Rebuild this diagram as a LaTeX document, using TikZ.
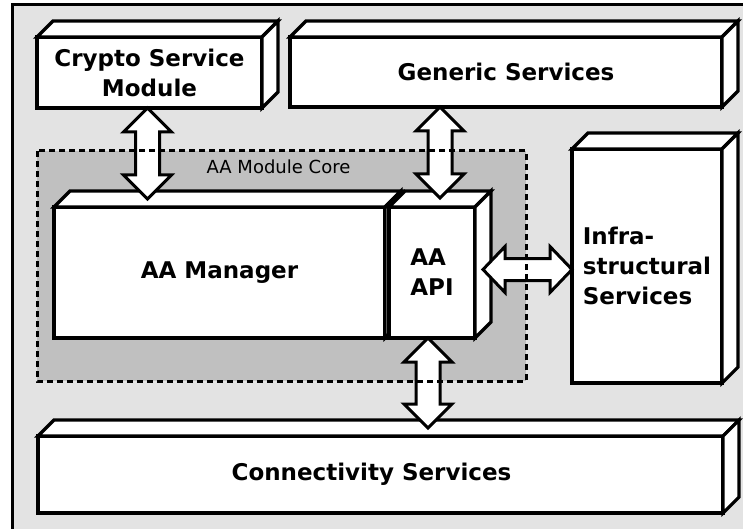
\documentclass[tikz,border=0pt]{standalone}
\usepackage{fontspec}
\setmainfont{DejaVu Sans}
\usetikzlibrary{calc}

\definecolor{panelgray}{HTML}{E3E3E3}
\definecolor{coregray}{HTML}{C0C0C0}

\tikzset{
  box/.style={draw, line width=3.2pt, fill=white, outer sep=0pt, inner sep=0pt,
    anchor=north west, align=center,
    font=\fontsize{23}{30}\selectfont\bfseries},
  face/.style={draw, line width=3.2pt, fill=white, line join=miter},
  blockarrow/.style={draw, line width=3pt, fill=white, line join=miter},
  coreframe/.style={draw, line width=3pt, dash pattern=on 6pt off 4pt},
}

% top and right faces of a box drawn as a cuboid
\newcommand\cuboidfaces[1]{%
  \path[face] (#1.north west) -- ++(16,-16) -- ($(#1.north east)+(16,-16)$)
    -- (#1.north east) -- cycle;
  \path[face] (#1.north east) -- ++(16,-16) -- ($(#1.south east)+(16,-16)$)
    -- (#1.south east) -- cycle;
}
% vertical double block arrow, first point above the second
\newcommand\vdarrow[2]{%
  \path[blockarrow] (#1) -- ++(24,24) -- ++(-12,0) -- ($(#2)+(12,-24)$)
    -- ++(12,0) -- (#2) -- ++(-24,-24) -- ++(12,0) -- ($(#1)+(-12,24)$)
    -- ++(-12,0) -- cycle;
}
% horizontal double block arrow, first point left of the second
\newcommand\hdarrow[2]{%
  \path[blockarrow] (#1) -- ++(22,-23) -- ++(0,12) -- ($(#2)+(-22,-11)$)
    -- ++(0,-12) -- (#2) -- ++(-22,23) -- ++(0,-12) -- ($(#1)+(22,11)$)
    -- ++(0,12) -- cycle;
}

\begin{document}
\begin{tikzpicture}[x=1pt,y=-1pt]
  \useasboundingbox (0,0) rectangle (743,529);
  \clip (0,0) rectangle (743,529);

  % outer panel
  \draw[line width=3pt, fill=panelgray] (12,5) rectangle (770,560);

  % AA module core area
  \node[draw=none, fill=coregray, outer sep=0pt, inner sep=0pt, anchor=north west,
        minimum width=489pt, minimum height=230pt] (core) at (37,151) {};
  \node[font=\fontsize{18}{21}\selectfont] (corelabel) at ($(core.north)+(-3,16)$) {AA Module Core};

  % service boxes
  \node[box, minimum width=225pt, minimum height=71pt] (crypto) at (37,37) {Crypto Service\\Module};
  \cuboidfaces{crypto}
  \node[box, minimum width=432pt, minimum height=70pt] (generic) at (290,37) {Generic Services};
  \cuboidfaces{generic}
  \node[box, minimum width=331pt, minimum height=131pt] (manager) at (54,207) {AA Manager};
  \cuboidfaces{manager}
  \node[box, align=left, minimum width=86pt, minimum height=131pt] (api) at (389,207) {AA\\API};
  \cuboidfaces{api}
  \node[box, align=left, minimum width=150pt, minimum height=234pt] (infra) at (572,149) {Infra-\\structural\\Services};
  \cuboidfaces{infra}
  \node[box, minimum width=685pt, minimum height=77pt] (conn) at (38,436) {\hspace*{-18pt}Connectivity Services};
  \cuboidfaces{conn}

  % connectors
  \coordinate (cmtip) at ($(crypto.south |- manager.north)+(-2,-8)$);
  \coordinate (cmtop) at (crypto.south -| cmtip);
  \vdarrow{cmtop}{cmtip}
  \coordinate (gatip) at ($(api.north)+(8,-9)$);
  \coordinate (gatop) at (generic.south -| gatip);
  \vdarrow{gatop}{gatip}
  \coordinate (aiL) at ($(api.east)+(8,-3)$);
  \coordinate (aiR) at (infra.west |- aiL);
  \hdarrow{aiL}{aiR}
  \coordinate (acT) at ($(api.south)+(-4,0)$);
  \coordinate (acB) at ($(acT |- conn.north)+(0,-8)$);
  \vdarrow{acT}{acB}

  % dashed border of the core area
  \path[coreframe] (core.north west) rectangle (core.south east);
\end{tikzpicture}
\end{document}
